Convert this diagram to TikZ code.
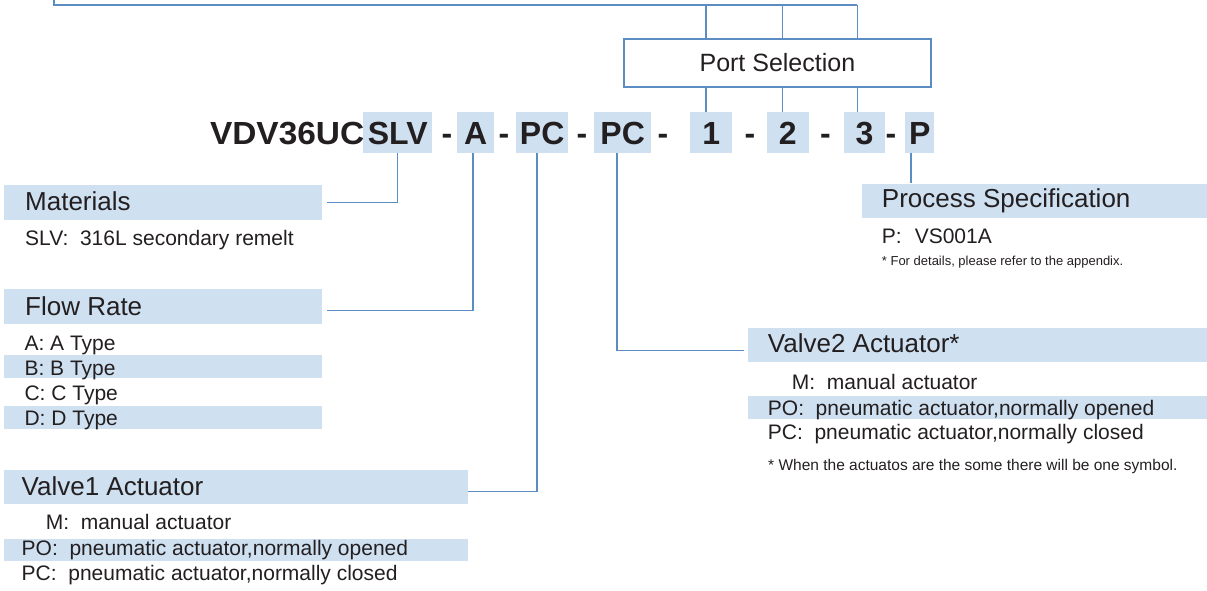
\documentclass[tikz,border=0pt]{standalone}
\usepackage{fontspec}
\usepackage{graphicx}
\setmainfont{Liberation Sans}
\definecolor{bandc}{HTML}{CFE0F1}
\definecolor{lnc}{HTML}{5B8CC2}
\definecolor{txc}{HTML}{231F20}
\begin{document}
\begin{tikzpicture}[x=1pt,y=-1pt,
  conn/.style={draw=lnc,line width=1.5pt},
  bandbox/.style={fill=bandc,draw=none,inner sep=0pt,anchor=north west},
  hdr/.style={anchor=base west,inner sep=0pt,text=txc,font=\fontsize{26}{30}\selectfont},
  body/.style={anchor=base west,inner sep=0pt,text=txc,font=\fontsize{21}{25}\selectfont},
  note/.style={anchor=base west,inner sep=0pt,text=txc,font=\fontsize{13}{15}\selectfont},
  cbox/.style={fill=bandc,draw=none,inner sep=0pt,anchor=north west,minimum height=41pt,text=txc,
     font=\fontsize{32}{36}\selectfont\bfseries,text height=23pt,text depth=0pt},
  ctext/.style={anchor=base,inner sep=0pt,text=txc,font=\fontsize{32}{36}\selectfont\bfseries}]
\useasboundingbox (0,0) rectangle (1207,590);

% code line
\node[anchor=base east,inner sep=0pt,text=txc,font=\fontsize{32}{36}\selectfont\bfseries] (vdv) at (364.5,144) {\scalebox{1.045}[1]{VDV36UC}};
\node[cbox,minimum width=69pt] (slv) at (363,112) {SLV};
\node[ctext] (d1) at (447,144) {-};
\node[cbox,minimum width=37pt] (ca) at (457,112) {A};
\node[ctext] (d2) at (504,144) {-};
\node[cbox,minimum width=52pt] (pc1) at (516,112) {PC};
\node[ctext] (d3) at (582,144) {-};
\node[cbox,minimum width=57pt] (pc2) at (594,112) {PC};
\node[ctext] (d4) at (663,144) {-};
\node[cbox,minimum width=42pt] (c1) at (690,112) {1};
\node[ctext] (d5) at (750,144) {-};
\node[cbox,minimum width=42pt] (c2) at (766.5,112) {2};
\node[ctext] (d6) at (825.5,144) {-};
\node[cbox,minimum width=41.5pt] (c3) at (843.5,112) {3};
\node[ctext] (d7) at (891,144) {-};
\node[cbox,minimum width=29pt] (cp) at (905,112) {P};

% port selection
\node[draw=lnc,line width=1.8pt,minimum width=307pt,minimum height=48pt,anchor=north west,inner sep=0pt,
  text=txc,font=\fontsize{25}{29}\selectfont] (port) at (623,38) {Port Selection};
\coordinate (tl) at (54,0);
\coordinate (tc) at (54,5);
\path (c1.north) ++(-5,0) coordinate (k1);
\path (c2.north) ++(-5,0) coordinate (k2);
\path (c3.north) ++(-7,0) coordinate (k3);
\draw[conn] (tl) -- (tc) -- (tc -| k3);
\draw[conn] (k1 |- tc) -- (port.north -| k1);
\draw[conn] (k2 |- tc) -- (port.north -| k2);
\draw[conn] (k3 |- tc) -- (port.north -| k3);
\draw[conn] (port.south -| k1) -- (k1);
\draw[conn] (port.south -| k2) -- (k2);
\draw[conn] (port.south -| k3) -- (k3);

% Materials
\node[bandbox,minimum width=318pt,minimum height=35pt] (mat) at (4,185) {};
\node[hdr] (matT) at (25,210) {Materials};
\node[body] (matS) at (25,245) {SLV:\ \ 316L secondary remelt};
\draw[conn] (slv.south) |- ([xshift=5pt]mat.east);

% Flow rate
\node[bandbox,minimum width=318pt,minimum height=35pt] (flow) at (4,289) {};
\node[hdr] (flowT) at (25,315) {Flow Rate};
\node[bandbox,minimum width=318pt,minimum height=22.7pt] (fb) at (4,355) {};
\node[bandbox,minimum width=318pt,minimum height=22.7pt] (fd) at (4,406) {};
\node[body] (fA) at (24.3,350) {A: A Type};
\node[body] (fB) at (24.3,375) {B: B Type};
\node[body] (fC) at (24.3,400.5) {C: C Type};
\node[body] (fD) at (24.3,425.5) {D: D Type};
\draw[conn] ([xshift=-2.5pt]ca.south) |- ([xshift=5pt,yshift=-4pt]flow.east);

% Valve1
\node[bandbox,minimum width=464pt,minimum height=34.5pt] (v1) at (4,469.3) {};
\node[hdr] (v1T) at (21.5,495) {Valve1 Actuator};
\node[bandbox,minimum width=464pt,minimum height=22.4pt] (v1b) at (4,538.3) {};
\node[body] (v1M) at (45.6,529) {M:\ \ manual actuator};
\node[body] (v1PO) at (21.5,555.5) {PO:\ \ pneumatic actuator,normally opened};
\node[body] (v1PC) at (21.5,580.5) {PC:\ \ pneumatic actuator,normally closed};
\draw[conn] ([xshift=-5pt]pc1.south) |- ([yshift=-4.5pt]v1.east);

% Process specification
\node[bandbox,minimum width=345pt,minimum height=34.5pt] (ps) at (862,183.3) {};
\node[hdr] (psT) at (881.7,207) {Process Specification};
\node[body] (psP) at (881.7,243) {P:\hspace{13pt}VS001A};
\node[note] (psN) at (881.7,265) {* For details, please refer to the appendix.};
\path (cp.south) ++(-8.5,0) coordinate (kp);
\draw[conn] (kp) -- (ps.north -| kp);

% Valve2
\node[bandbox,minimum width=459pt,minimum height=34.5pt] (v2) at (748,327.3) {};
\node[hdr] (v2T) at (767.7,352.5) {Valve2 Actuator*};
\node[bandbox,minimum width=459pt,minimum height=22.7pt] (v2b) at (748,396) {};
\node[body] (v2M) at (791.7,389) {M:\ \ manual actuator};
\node[body] (v2PO) at (767.7,415) {PO:\ \ pneumatic actuator,normally opened};
\node[body] (v2PC) at (767.7,439.5) {PC:\ \ pneumatic actuator,normally closed};
\node[note,font=\fontsize{15.5}{18}\selectfont] (v2N) at (768,470) {* When the actuatos are the some there will be one symbol.};
\draw[conn] ([xshift=-5.5pt]pc2.south) |- ([xshift=-4pt,yshift=-5.5pt]v2.west);
\end{tikzpicture}
\end{document}
